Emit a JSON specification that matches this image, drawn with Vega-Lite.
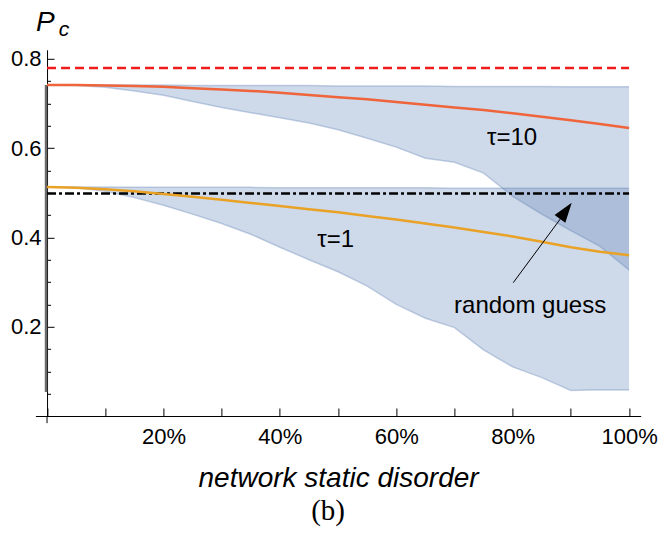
{
  "$schema": "https://vega.github.io/schema/vega-lite/v6.json",
  "width": 605.3,
  "height": 366.2,
  "autosize": "none",
  "padding": {"left": 35.4, "top": 49.8, "right": 20.3, "bottom": 119},
  "background": "white",
  "config": {"view": {"stroke": null}, "axis": {"grid": false}},
  "title": {"text": "(b)", "orient": "bottom", "font": "Liberation Serif", "fontSize": 29, "fontWeight": "normal", "color": "black", "offset": 5, "dx": -10},
  "datasets": {
    "band": [
      {"x":0,"lo":0.741,"hi":0.741,"s":"t10"},{"x":0.05,"lo":0.740,"hi":0.741,"s":"t10"},{"x":0.1,"lo":0.736,"hi":0.741,"s":"t10"},{"x":0.15,"lo":0.728,"hi":0.741,"s":"t10"},{"x":0.2,"lo":0.718,"hi":0.741,"s":"t10"},{"x":0.25,"lo":0.704,"hi":0.740,"s":"t10"},{"x":0.3,"lo":0.691,"hi":0.740,"s":"t10"},{"x":0.35,"lo":0.679,"hi":0.740,"s":"t10"},{"x":0.4,"lo":0.668,"hi":0.740,"s":"t10"},{"x":0.45,"lo":0.656,"hi":0.740,"s":"t10"},{"x":0.5,"lo":0.641,"hi":0.739,"s":"t10"},{"x":0.55,"lo":0.622,"hi":0.739,"s":"t10"},{"x":0.6,"lo":0.602,"hi":0.739,"s":"t10"},{"x":0.65,"lo":0.577,"hi":0.739,"s":"t10"},{"x":0.7,"lo":0.568,"hi":0.738,"s":"t10"},{"x":0.75,"lo":0.544,"hi":0.738,"s":"t10"},{"x":0.8,"lo":0.492,"hi":0.738,"s":"t10"},{"x":0.85,"lo":0.452,"hi":0.738,"s":"t10"},{"x":0.9,"lo":0.415,"hi":0.737,"s":"t10"},{"x":0.95,"lo":0.380,"hi":0.737,"s":"t10"},{"x":1.0,"lo":0.327,"hi":0.737,"s":"t10"},
      {"x":0,"lo":0.513,"hi":0.513,"s":"t1"},{"x":0.05,"lo":0.511,"hi":0.513,"s":"t1"},{"x":0.1,"lo":0.503,"hi":0.513,"s":"t1"},{"x":0.15,"lo":0.489,"hi":0.512,"s":"t1"},{"x":0.2,"lo":0.472,"hi":0.512,"s":"t1"},{"x":0.25,"lo":0.452,"hi":0.512,"s":"t1"},{"x":0.3,"lo":0.431,"hi":0.512,"s":"t1"},{"x":0.35,"lo":0.407,"hi":0.512,"s":"t1"},{"x":0.4,"lo":0.378,"hi":0.511,"s":"t1"},{"x":0.45,"lo":0.350,"hi":0.511,"s":"t1"},{"x":0.5,"lo":0.323,"hi":0.511,"s":"t1"},{"x":0.55,"lo":0.291,"hi":0.511,"s":"t1"},{"x":0.6,"lo":0.250,"hi":0.511,"s":"t1"},{"x":0.65,"lo":0.219,"hi":0.511,"s":"t1"},{"x":0.7,"lo":0.198,"hi":0.510,"s":"t1"},{"x":0.75,"lo":0.148,"hi":0.510,"s":"t1"},{"x":0.8,"lo":0.110,"hi":0.510,"s":"t1"},{"x":0.85,"lo":0.086,"hi":0.510,"s":"t1"},{"x":0.9,"lo":0.057,"hi":0.510,"s":"t1"},{"x":0.95,"lo":0.059,"hi":0.510,"s":"t1"},{"x":1.0,"lo":0.058,"hi":0.510,"s":"t1"}
    ],
    "mean": [
      {"x":0,"p":0.741,"s":"t10"},{"x":0.05,"p":0.741,"s":"t10"},{"x":0.1,"p":0.740,"s":"t10"},{"x":0.15,"p":0.739,"s":"t10"},{"x":0.2,"p":0.737,"s":"t10"},{"x":0.25,"p":0.734,"s":"t10"},{"x":0.3,"p":0.731,"s":"t10"},{"x":0.35,"p":0.728,"s":"t10"},{"x":0.4,"p":0.724,"s":"t10"},{"x":0.45,"p":0.719,"s":"t10"},{"x":0.5,"p":0.714,"s":"t10"},{"x":0.55,"p":0.709,"s":"t10"},{"x":0.6,"p":0.703,"s":"t10"},{"x":0.65,"p":0.697,"s":"t10"},{"x":0.7,"p":0.691,"s":"t10"},{"x":0.75,"p":0.685,"s":"t10"},{"x":0.8,"p":0.678,"s":"t10"},{"x":0.85,"p":0.670,"s":"t10"},{"x":0.9,"p":0.662,"s":"t10"},{"x":0.95,"p":0.654,"s":"t10"},{"x":1.0,"p":0.645,"s":"t10"},
      {"x":0,"p":0.513,"s":"t1"},{"x":0.05,"p":0.511,"s":"t1"},{"x":0.1,"p":0.508,"s":"t1"},{"x":0.15,"p":0.503,"s":"t1"},{"x":0.2,"p":0.497,"s":"t1"},{"x":0.25,"p":0.491,"s":"t1"},{"x":0.3,"p":0.484,"s":"t1"},{"x":0.35,"p":0.477,"s":"t1"},{"x":0.4,"p":0.470,"s":"t1"},{"x":0.45,"p":0.463,"s":"t1"},{"x":0.5,"p":0.456,"s":"t1"},{"x":0.55,"p":0.448,"s":"t1"},{"x":0.6,"p":0.440,"s":"t1"},{"x":0.65,"p":0.431,"s":"t1"},{"x":0.7,"p":0.422,"s":"t1"},{"x":0.75,"p":0.412,"s":"t1"},{"x":0.8,"p":0.402,"s":"t1"},{"x":0.85,"p":0.390,"s":"t1"},{"x":0.9,"p":0.378,"s":"t1"},{"x":0.95,"p":0.368,"s":"t1"},{"x":1.0,"p":0.360,"s":"t1"}
    ]
  },
  "resolve": {"axis": {"y": "independent"}},
  "layer": [
    {
      "data": {"name": "band"},
      "mark": {"type": "area", "color": "#5E81B5", "opacity": 0.3},
      "encoding": {
        "x": {"field": "x", "type": "quantitative", "scale": {"domain": [-0.02, 1.02], "nice": false, "zero": false},
          "axis": {"orient": "bottom", "values": [0,0.1,0.2,0.3,0.4,0.5,0.6,0.7,0.8,0.9,1.0],
            "labelExpr": "datum.value > 0.05 && round(datum.value*10) % 2 == 0 ? format(datum.value, '.0%') : ''",
            "tickSize": -8, "tickColor": "black", "domainColor": "black", "labelFont": "Liberation Sans", "labelFontSize": 22, "labelColor": "black",
            "labelPadding": 18, "labelFlush": false, "labelOverlap": false,
            "title": "network static disorder", "titleFont": "Liberation Sans", "titleFontSize": 28, "titleFontStyle": "italic", "titleFontWeight": "normal", "titleColor": "black", "titlePadding": 17}},
        "y": {"field": "lo", "type": "quantitative", "scale": {"domain": [0, 0.82], "nice": false, "zero": false},
          "axis": {"orient": "left", "offset": -11.64, "values": [0.2,0.4,0.6,0.8], "format": ".1f", "tickSize": -7, "labelPadding": 13,
            "labelFont": "Liberation Sans", "labelFontSize": 22, "labelColor": "black", "domainColor": "black", "tickColor": "black", "title": null}},
        "y2": {"field": "hi"},
        "detail": {"field": "s"}
      }
    },
    {
      "data": {"name": "band"},
      "mark": {"type": "line", "color": "#5E81B5", "opacity": 0.35, "strokeWidth": 1.5},
      "encoding": {
        "x": {"field": "x", "type": "quantitative"},
        "y": {"field": "lo", "type": "quantitative",
          "axis": {"orient": "left", "offset": -11.64, "values": [0.05,0.1,0.15,0.25,0.3,0.35,0.45,0.5,0.55,0.65,0.7,0.75], "tickSize": -3.5, "labels": false, "domain": false, "tickColor": "black", "title": null}},
        "detail": {"field": "s"}
      }
    },
    {
      "data": {"name": "band"},
      "mark": {"type": "line", "color": "#5E81B5", "opacity": 0.35, "strokeWidth": 1.5},
      "encoding": {
        "x": {"field": "x", "type": "quantitative"},
        "y": {"field": "hi", "type": "quantitative", "axis": null},
        "detail": {"field": "s"}
      }
    },
    {
      "data": {"values": [{"x": 0, "y": 0.054, "y2": 0.741}]},
      "mark": {"type": "rule", "color": "#6a6a6a", "strokeWidth": 2.5, "xOffset": -1},
      "encoding": {
        "x": {"field": "x", "type": "quantitative"},
        "y": {"field": "y", "type": "quantitative", "axis": null},
        "y2": {"field": "y2"}
      }
    },
    {
      "data": {"values": [{"x": 0, "y": -0.016, "y2": 0}]},
      "mark": {"type": "rule", "color": "black", "strokeWidth": 1},
      "encoding": {
        "x": {"field": "x", "type": "quantitative"},
        "y": {"field": "y", "type": "quantitative", "axis": null},
        "y2": {"field": "y2"}
      }
    },
    {
      "data": {"values": [{"x": 0, "x2": 1, "y": 0.4985}]},
      "mark": {"type": "rule", "color": "black", "strokeWidth": 2.5, "strokeDash": [9, 3, 3, 3]},
      "encoding": {
        "x": {"field": "x", "type": "quantitative"},
        "x2": {"field": "x2"},
        "y": {"field": "y", "type": "quantitative", "axis": null}
      }
    },
    {
      "data": {"name": "mean"},
      "mark": {"type": "line", "strokeWidth": 2.5},
      "encoding": {
        "x": {"field": "x", "type": "quantitative"},
        "y": {"field": "p", "type": "quantitative", "axis": null},
        "color": {"field": "s", "type": "nominal", "scale": {"domain": ["t10", "t1"], "range": ["#EF643A", "#E9A226"]}, "legend": null}
      }
    },
    {
      "data": {"values": [{"x": 0, "x2": 1, "y": 0.779}]},
      "mark": {"type": "rule", "color": "#EE1C1C", "strokeWidth": 2.5, "strokeDash": [9, 5]},
      "encoding": {
        "x": {"field": "x", "type": "quantitative"},
        "x2": {"field": "x2"},
        "y": {"field": "y", "type": "quantitative", "axis": null}
      }
    },
    {
      "data": {"values": [{"x": 0.801, "y": 0.2985, "x2": 0.884, "y2": 0.445}]},
      "mark": {"type": "rule", "color": "black", "strokeWidth": 1},
      "encoding": {
        "x": {"field": "x", "type": "quantitative"},
        "y": {"field": "y", "type": "quantitative", "axis": null},
        "x2": {"field": "x2"},
        "y2": {"field": "y2"}
      }
    },
    {
      "data": {"values": [{"x": 0.9015, "y": 0.4776}]},
      "mark": {"type": "point", "shape": "M0,0L0.33,1L-0.33,1Z", "size": 1600, "angle": 36, "filled": true, "color": "black", "opacity": 1},
      "encoding": {
        "x": {"field": "x", "type": "quantitative"},
        "y": {"field": "y", "type": "quantitative", "axis": null}
      }
    },
    {
      "data": {"values": [{"x": 0.496, "y": 0.394, "t": "τ=1"}, {"x": 0.799, "y": 0.6225, "t": "τ=10"}, {"x": 0.83, "y": 0.246, "t": "random guess"}]},
      "mark": {"type": "text", "font": "Liberation Sans", "fontSize": 24, "color": "black", "baseline": "middle", "align": "center"},
      "encoding": {
        "x": {"field": "x", "type": "quantitative"},
        "y": {"field": "y", "type": "quantitative", "axis": null},
        "text": {"field": "t"}
      }
    },
    {
      "data": {"values": [{"x": -0.003, "y": 0.879, "t": "P"}]},
      "mark": {"type": "text", "font": "Liberation Sans", "fontSize": 28, "fontStyle": "italic", "color": "black", "baseline": "middle", "align": "center"},
      "encoding": {
        "x": {"field": "x", "type": "quantitative"},
        "y": {"field": "y", "type": "quantitative", "axis": null},
        "text": {"field": "t"}
      }
    },
    {
      "data": {"values": [{"x": 0.029, "y": 0.864, "t": "c"}]},
      "mark": {"type": "text", "font": "Liberation Sans", "fontSize": 21, "fontStyle": "italic", "color": "black", "baseline": "middle", "align": "center"},
      "encoding": {
        "x": {"field": "x", "type": "quantitative"},
        "y": {"field": "y", "type": "quantitative", "axis": null},
        "text": {"field": "t"}
      }
    }
  ]
}
